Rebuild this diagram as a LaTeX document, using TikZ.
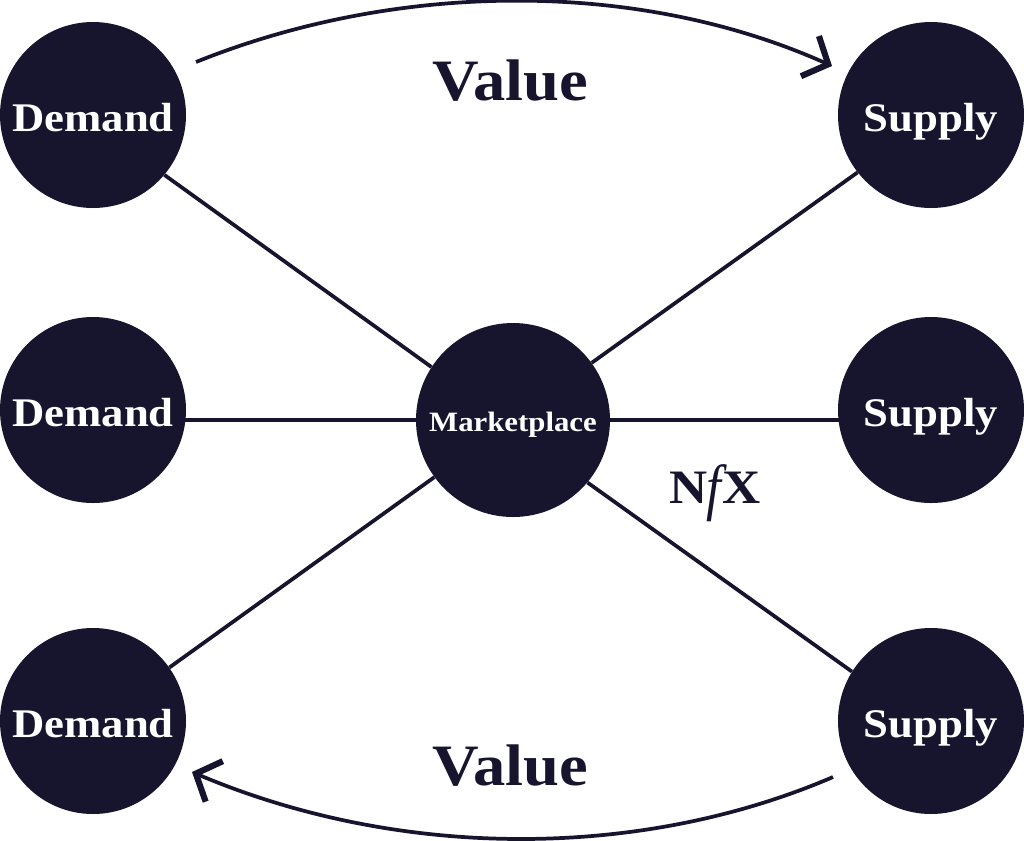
\documentclass[tikz,border=0pt]{standalone}
\usepackage{fontspec}
\setmainfont[FakeStretch=1.1]{Liberation Serif}
\usetikzlibrary{arrows.meta}
\definecolor{navy}{HTML}{17152E}
\tikzset{
 x=0.75pt,y=-0.75pt,
 bub/.style={circle,fill=navy,draw=none,minimum size=139.5pt,inner sep=0pt,text=white,text height=25pt,text depth=0pt,font=\bfseries\fontsize{30.5}{32}\selectfont},
 hub/.style={bub,minimum size=145.5pt,text height=16.5pt,text depth=0pt,font=\bfseries\fontsize{21}{23}\selectfont},
 link/.style={draw=navy,line width=2.8pt},
 flow/.style={draw=navy,line width=2.8pt,-{Straight Barb[length=15pt,width=33pt,line width=4.6pt]}},
 lab/.style={text=navy,font=\bfseries\fontsize{44}{46}\selectfont}
}
\begin{document}
\begin{tikzpicture}
\useasboundingbox (0,0) rectangle (1024,840);
\node[bub] (d1) at (93,115) {Demand};
\node[bub] (d2) at (93,410) {Demand};
\node[bub] (d3) at (93,721) {Demand};
\node[bub] (s1) at (931,115) {Supply};
\node[bub] (s2) at (931,410) {Supply};
\node[bub] (s3) at (931,721) {Supply};
\node[hub] (m) at (513,420) {Marketplace};
\draw[link] (m.147) -- (d1.-40.6);
\draw[link] (m.36.3) -- (s1.218.4);
\draw[link] (m.216) -- (d3.35);
\draw[link] (m.-40) -- (s3.148);
\draw[link] (m.west) -- (185,420);
\draw[link] (m.east) -- (839,420);
\coordinate (a1) at (196,62);
\coordinate (a2) at (832,66);
\coordinate (b1) at (833,777);
\coordinate (b2) at (192,772);
\draw[flow] (a1) .. controls (400,-20) and (640,-20) .. (a2);
\draw[flow] (b1) .. controls (640,860) and (400,860) .. (b2);
\node[lab] (v1) at (510,81) {Value};
\node[lab] (v2) at (510,766) {Value};
\node[text=navy,font=\bfseries\fontsize{36}{38}\selectfont,inner sep=0pt,anchor=base] (n) at (715,503) {N\hspace{-1pt}\raisebox{-4pt}{\scalebox{1}[1.3]{\mdseries\itshape f}}\hspace{1pt}X};
\end{tikzpicture}
\end{document}
